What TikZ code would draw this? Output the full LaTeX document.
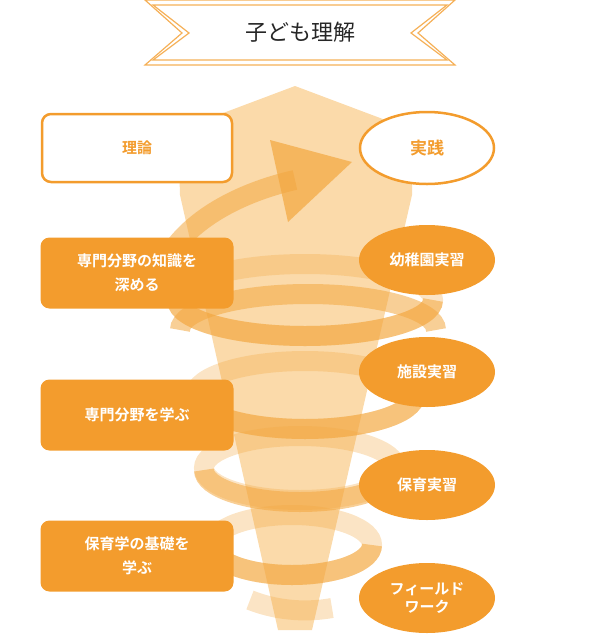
\documentclass[tikz,border=0pt]{standalone}
\usepackage{fontspec}
\newfontfamily\jp{Noto Sans CJK JP}
\newfontfamily\jpb{Noto Sans CJK JP Bold}
\definecolor{org}{HTML}{F39C2D}
\definecolor{funnel}{HTML}{FBDAAA}
\definecolor{spir}{HTML}{F3A73F}
\tikzset{
 lbox/.style={draw=none,fill=org,rounded corners=9pt,minimum width=193pt,minimum height=71pt,text=white,font=\jpb\fontsize{15}{24}\selectfont,align=center},
 rel/.style={ellipse,fill=org,minimum width=136pt,minimum height=70pt,text=white,font=\jpb\fontsize{15}{18}\selectfont,align=center,inner sep=0pt},
 band/.style={line width=20pt,draw=spir,draw opacity=.55},
 bandb/.style={line width=20pt,draw=spir,draw opacity=.3}
}
\usetikzlibrary{shapes.geometric}
\begin{document}
\begin{tikzpicture}[x=1pt,y=-1pt]
\useasboundingbox (0,0) rectangle (600,635);
% funnel
\fill[funnel] (295,86) -- (412,130) -- (412,195) -- (312,630) -- (278,630) -- (180,195) -- (178,130) -- cycle;
% spiral loops (back parts)
\draw[bandb] (305,300) ellipse [x radius=128,y radius=36];
\draw[bandb] (305,395) ellipse [x radius=110,y radius=34];
\draw[bandb] (300,468) ellipse [x radius=96,y radius=32];
\draw[bandb] (292,545) ellipse [x radius=80,y radius=30];
% front / top parts
\draw[band] (180,330) arc[start angle=180,end angle=360,x radius=128,y radius=36] ;
\draw[band] (177,300) arc[start angle=180,end angle=0,x radius=128,y radius=36];
\draw[band] (195,395) arc[start angle=180,end angle=0,x radius=110,y radius=34];
\draw[band] (204,470) arc[start angle=180,end angle=0,x radius=96,y radius=32];
\draw[band] (212,545) arc[start angle=180,end angle=0,x radius=80,y radius=30];
\draw[bandb] (250,600) .. controls (280,612) and (310,612) .. (332,608);
% top arrow
\draw[band] (165,262) .. controls (190,215) and (250,190) .. (295,180);
\fill[spir,fill opacity=.7] (270,140) -- (352,162) -- (288,222) -- cycle;
% banner
\draw[org!80,line width=1.2pt] (145,0) -- (455,0) -- (418,33) -- (455,65) -- (145,65) -- (182,33) -- cycle;
\draw[org!80,line width=1.2pt] (153,5) -- (447,5) -- (411,33) -- (447,60) -- (153,60) -- (189,33) -- cycle;
\node[font=\jp\fontsize{22}{24}\selectfont,text=black!85] (title) at (300,32) {子ども理解};
% left boxes
\node[lbox,fill=white,draw=org,line width=2.5pt,text=org,minimum width=190pt,minimum height=68pt] (riron) at (137,148) {理論};
\node[ellipse,draw=org,line width=2.5pt,fill=white,minimum width=134pt,minimum height=72pt,text=org,font=\jpb\fontsize{17}{20}\selectfont] (jissen) at (427,148) {実践};
\node[lbox] (b1) at (137,273) {専門分野の知識を\\深める};
\node[lbox] (b2) at (137,415) {専門分野を学ぶ};
\node[lbox] (b3) at (137,556) {保育学の基礎を\\学ぶ};
\node[rel] (e1) at (427,260) {幼稚園実習};
\node[rel] (e2) at (427,372) {施設実習};
\node[rel] (e3) at (427,485) {保育実習};
\node[rel] (e4) at (427,598) {フィールド\\ワーク};
\end{tikzpicture}
\end{document}
